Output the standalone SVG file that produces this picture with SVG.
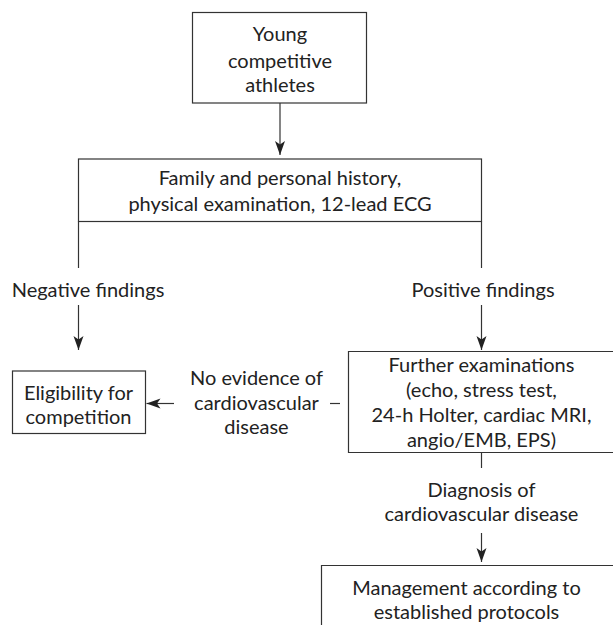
<svg xmlns="http://www.w3.org/2000/svg" width="613" height="625" viewBox="0 0 613 625">
<style>
.box{fill:#fff;stroke:#333;stroke-width:1.2}
.open{fill:none;stroke:#333;stroke-width:1.2}
.ln{stroke:#333;stroke-width:1.2;fill:none}
text{font-family:Lato,"Open Sans","Liberation Sans",sans-serif;font-size:20px;fill:#222;text-anchor:middle}
</style>
<defs>
<marker id="arr" markerUnits="userSpaceOnUse" markerWidth="15" markerHeight="11" refX="14" refY="5" orient="auto">
<path d="M0,0 L14,5 L0,10 L3.5,5 z" fill="#222"/>
</marker>
</defs>
<rect width="613" height="625" fill="#fff"/>
<g id="connectors">
<line class="ln" x1="280" y1="103" x2="280" y2="155" marker-end="url(#arr)"/>
<line class="ln" x1="78.5" y1="221.5" x2="78.5" y2="268"/>
<line class="ln" x1="78.5" y1="305" x2="78.5" y2="350" marker-end="url(#arr)"/>
<line class="ln" x1="481.5" y1="221.5" x2="481.5" y2="268"/>
<line class="ln" x1="481.5" y1="305" x2="481.5" y2="350" marker-end="url(#arr)"/>
<line class="ln" x1="330" y1="403.5" x2="340" y2="403.5"/>
<line class="ln" x1="174" y1="403.5" x2="146.5" y2="403.5" marker-end="url(#arr)"/>
<line class="ln" x1="481.5" y1="452.5" x2="481.5" y2="468"/>
<line class="ln" x1="481.5" y1="533" x2="481.5" y2="562" marker-end="url(#arr)"/>
<text x="88" y="297">Negative findings</text>
<text x="483" y="297">Positive findings</text>
<text x="256.5" y="385">No evidence of</text>
<text x="256.5" y="410">cardiovascular</text>
<text x="256.5" y="434">disease</text>
<text x="481.5" y="497">Diagnosis of</text>
<text x="481.5" y="521">cardiovascular disease</text>
</g>
<g id="athletes">
<rect class="box" x="192.5" y="12.5" width="174" height="90.5"/>
<text x="280" y="41">Young</text>
<text x="280" y="68">competitive</text>
<text x="280" y="92">athletes</text>
</g>
<g id="history">
<rect class="box" x="78.5" y="159" width="403" height="62.5"/>
<text x="280" y="185">Family and personal history,</text>
<text x="280" y="210.5">physical examination, 12-lead ECG</text>
</g>
<g id="eligibility">
<rect class="box" x="12.5" y="371" width="133" height="62.5"/>
<text x="78.5" y="399.5">Eligibility for</text>
<text x="78.5" y="423.5">competition</text>
</g>
<g id="further">
<path class="open" d="M625,351.5 H348.5 V452.5 H625"/>
<text x="481.5" y="372">Further examinations</text>
<text x="481.5" y="397">(echo, stress test,</text>
<text x="481.5" y="422">24-h Holter, cardiac MRI,</text>
<text x="481.5" y="447">angio/EMB, EPS)</text>
</g>
<g id="management">
<path class="open" d="M625,565.5 H321.5 V630"/>
<text x="466.5" y="595">Management according to</text>
<text x="466.5" y="619">established protocols</text>
</g>
</svg>
